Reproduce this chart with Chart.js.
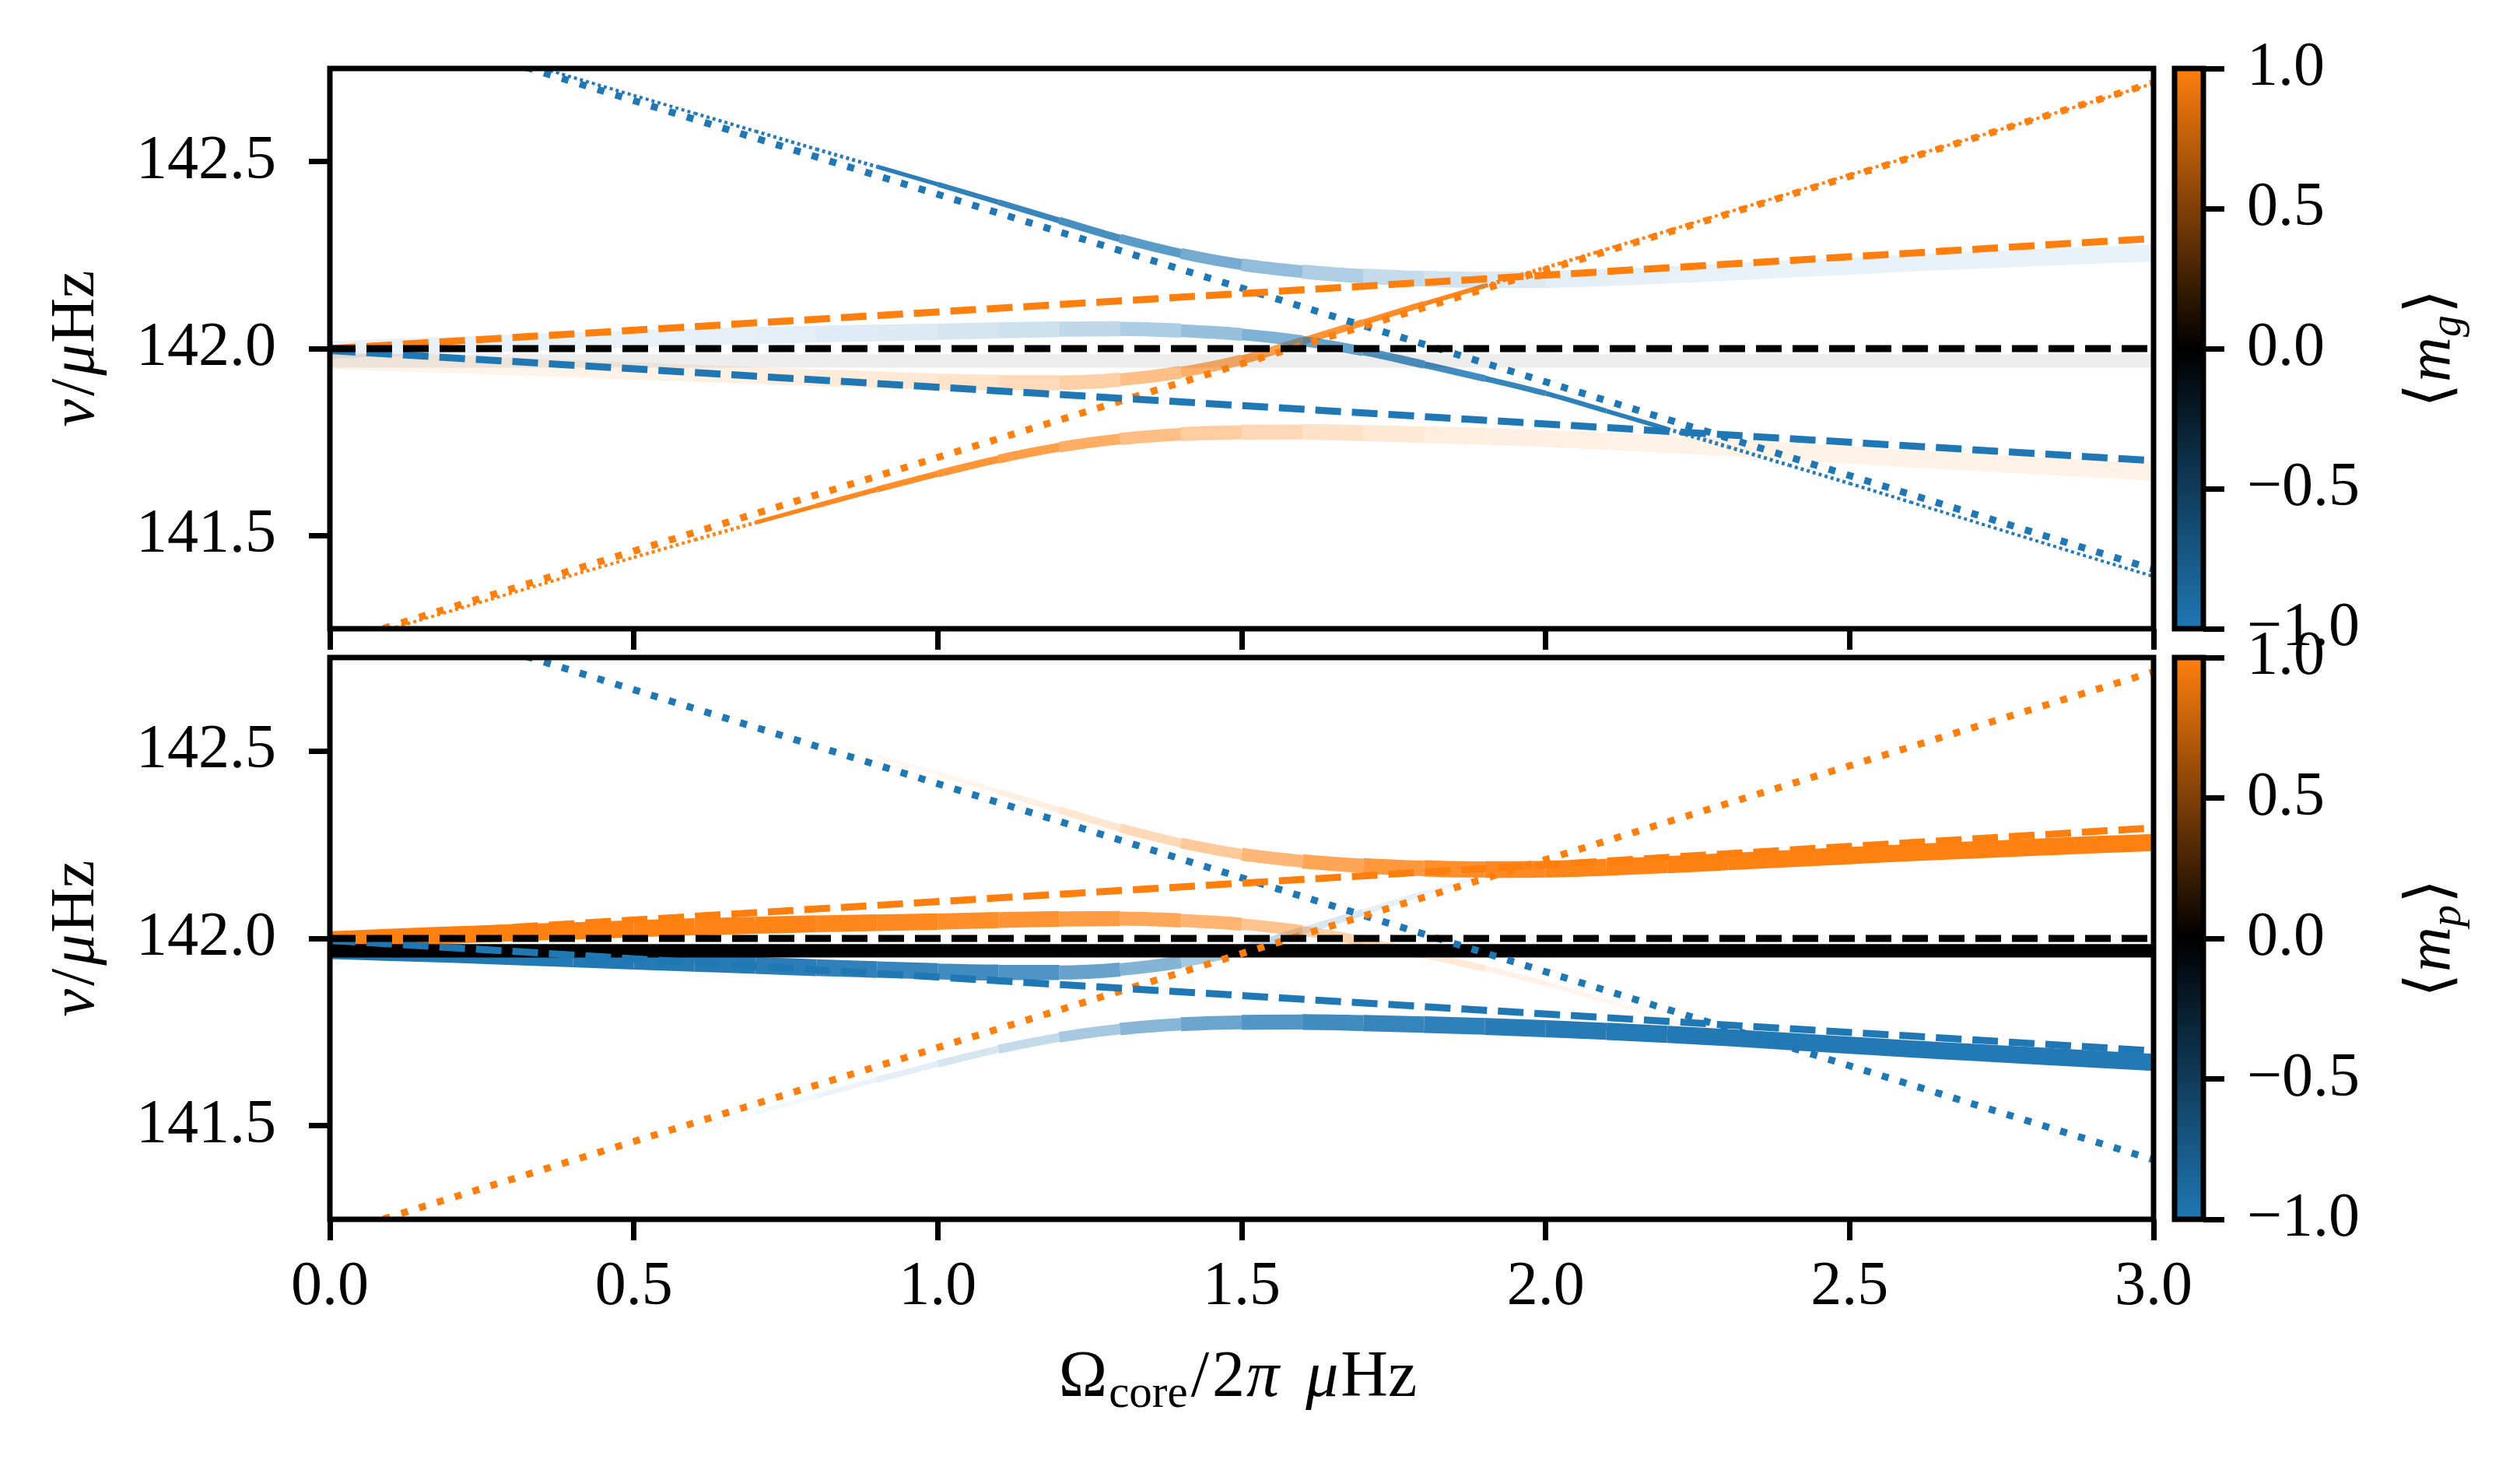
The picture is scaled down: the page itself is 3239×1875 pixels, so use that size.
<!DOCTYPE html>
<html>
<head>
<meta charset="utf-8">
<title>Avoided crossings vs core rotation</title>
<script src="https://cdn.jsdelivr.net/npm/chart.js@4.4.1/dist/chart.umd.min.js"></script>
<style>
  html, body { margin: 0; padding: 0; background: #fff; }
  #wrap { position: relative; width: 3239px; height: 1875px; overflow: hidden; }
  #wrap canvas { position: absolute; left: 0; top: 0; }
</style>
</head>
<body>
<div id="wrap">
  <canvas id="plot-g" width="3239" height="1875"></canvas>
  <canvas id="plot-p" width="3239" height="1875"></canvas>
  <canvas id="cbar-g" width="3239" height="1875"></canvas>
  <canvas id="cbar-p" width="3239" height="1875"></canvas>
</div>
<script>
// core rotation rate grid (Omega_core / 2pi, uHz)
var omega = [0.0, 0.1, 0.2, 0.3, 0.4, 0.5, 0.6, 0.7, 0.8, 0.9, 1.0,
  1.1, 1.2, 1.3, 1.4, 1.5, 1.6, 1.7, 1.8, 1.9, 2.0,
  2.1, 2.2, 2.3, 2.4, 2.5, 2.6, 2.7, 2.8, 2.9, 3.0];
var omegaEnds = [0.0, 3.0];

var xTicks = [0, 0.5, 1, 1.5, 2, 2.5, 3];
var yTicks = [141.5, 142.0, 142.5];
var cbTicks = [-1, -0.5, 0, 0.5, 1];

// coupled mode branches, frequency (uHz)
var nuA = [142.925, 142.875, 142.825, 142.775, 142.726, 142.678, 142.63, 142.582, 142.534, 142.487, 142.44,
  142.392, 142.343, 142.295, 142.255, 142.225, 142.206, 142.194, 142.187, 142.184, 142.185,
  142.19, 142.197, 142.205, 142.213, 142.221, 142.229, 142.236, 142.243, 142.25, 142.256];
var nuB = [141.996, 142.003, 142.009, 142.015, 142.02, 142.026, 142.031, 142.035, 142.039, 142.042, 142.045,
  142.049, 142.052, 142.053, 142.048, 142.038, 142.02, 141.993, 141.957, 141.92, 141.88,
  141.833, 141.785, 141.737, 141.688, 141.639, 141.589, 141.539, 141.489, 141.439, 141.39];
var nuC = [141.968, 141.963, 141.958, 141.952, 141.946, 141.94, 141.934, 141.928, 141.922, 141.917, 141.912,
  141.909, 141.909, 141.917, 141.937, 141.97, 142.02, 142.07, 142.12, 142.168, 142.217,
  142.266, 142.315, 142.365, 142.415, 142.465, 142.514, 142.563, 142.612, 142.661, 142.71];
var nuD = [141.2, 141.25, 141.298, 141.346, 141.394, 141.441, 141.488, 141.534, 141.579, 141.623, 141.665,
  141.704, 141.736, 141.758, 141.771, 141.776, 141.777, 141.774, 141.77, 141.765, 141.759,
  141.752, 141.744, 141.735, 141.725, 141.715, 141.705, 141.696, 141.687, 141.678, 141.669];
var nuE = [141.967, 141.967];

// p-mode fraction along each branch
var pfA = [0.02, 0.02, 0.02, 0.02, 0.02, 0.02, 0.02, 0.03, 0.03, 0.04, 0.06,
  0.09, 0.14, 0.22, 0.33, 0.46, 0.6, 0.72, 0.8, 0.86, 0.89,
  0.91, 0.92, 0.93, 0.93, 0.93, 0.93, 0.93, 0.93, 0.93, 0.93];
var pfB = [0.93, 0.93, 0.93, 0.93, 0.93, 0.93, 0.92, 0.91, 0.9, 0.88, 0.86,
  0.82, 0.77, 0.7, 0.6, 0.5, 0.38, 0.27, 0.18, 0.12, 0.08,
  0.06, 0.05, 0.04, 0.03, 0.03, 0.02, 0.02, 0.02, 0.02, 0.02];
var pfC = [0.94, 0.94, 0.94, 0.94, 0.94, 0.93, 0.92, 0.91, 0.89, 0.86, 0.83,
  0.78, 0.7, 0.59, 0.45, 0.32, 0.21, 0.13, 0.08, 0.05, 0.04,
  0.03, 0.02, 0.02, 0.02, 0.02, 0.02, 0.02, 0.02, 0.02, 0.02];
var pfD = [0.02, 0.02, 0.02, 0.02, 0.02, 0.02, 0.03, 0.04, 0.06, 0.09, 0.14,
  0.21, 0.31, 0.44, 0.57, 0.68, 0.77, 0.83, 0.87, 0.9, 0.91,
  0.92, 0.93, 0.93, 0.93, 0.93, 0.93, 0.93, 0.93, 0.93, 0.93];
var pfE = [0.96, 0.96];

// mean azimuthal order per branch (A, B, C, D, E)
var mgBranch = [-1, -1, 1, 1, 0];
var mpBranch = [1, 1, -1, -1, 0];

// uncoupled multiplets at Omega = 0 and 3
var pM0 = [142.0, 142.0];
var pMplus = [142.0, 142.295];
var pMminus = [141.995, 141.70];
var gMminus = [142.915, 141.409];
var gMplus = [141.207, 142.712];

(function () {
  'use strict';

  var W = 3239, H = 1875;
  var BLUE = [31, 119, 180];
  var ORANGE = [255, 127, 14];
  var SERIF = '"Liberation Serif", "DejaVu Serif", serif';
  var FONT = { family: SERIF, size: 80, lineHeight: 1.2 };
  var DASH = [33, 14];
  var DOT = [9, 15];

  var left = 424, right = 2768;

  function cmap(v) {
    var c = v < 0 ? BLUE : ORANGE;
    var t = Math.min(1, Math.abs(v));
    return [Math.round(c[0] * t), Math.round(c[1] * t), Math.round(c[2] * t)];
  }

  function rgba(c, a) {
    return 'rgba(' + c[0] + ',' + c[1] + ',' + c[2] + ',' + a.toFixed(3) + ')';
  }

  function widthOf(p) {
    return 2 + 21 * Math.pow(p, 0.6);
  }

  function band(xs, ys, pf, mval, panel, scale) {
    var col = cmap(mval);
    function alphaOf(p) {
      return panel === 'g' ? 0.03 + 0.97 * (1 - p) : Math.min(1, 1.06 * p);
    }
    function pAt(ctx) {
      return (pf[ctx.p0DataIndex] + pf[ctx.p1DataIndex]) / 2;
    }
    return {
      data: xs.map(function (x, i) { return { x: x, y: ys[i] }; }),
      borderColor: rgba(col, alphaOf(pf[0])),
      borderWidth: scale * widthOf(pf[0]),
      borderCapStyle: 'butt',
      pointRadius: 0,
      cubicInterpolationMode: 'monotone',
      clip: 0,
      segment: {
        borderColor: function (ctx) { return rgba(col, alphaOf(pAt(ctx))); },
        borderWidth: function (ctx) { return scale * widthOf(pAt(ctx)); },
        borderDash: function (ctx) { return pAt(ctx) < 0.05 ? [4, 4] : undefined; }
      }
    };
  }

  function refLine(ys, color, dash) {
    return {
      data: omegaEnds.map(function (x, i) { return { x: x, y: ys[i] }; }),
      borderColor: color,
      borderWidth: 9,
      borderDash: dash,
      borderCapStyle: 'butt',
      pointRadius: 0,
      clip: 0
    };
  }

  var framePlugin = {
    id: 'frame',
    afterDraw: function (chart) {
      var a = chart.chartArea, ctx = chart.ctx;
      ctx.save();
      ctx.strokeStyle = '#000';
      ctx.lineWidth = 7;
      ctx.strokeRect(a.left, a.top, a.right - a.left, a.bottom - a.top);
      ctx.restore();
    }
  };

  // mixed italic / subscript labels
  function richText(items) {
    function fontFor(p, size) {
      return (p.it ? 'italic ' : '') + Math.round(p.sub ? size * 0.7 : size) + 'px ' + SERIF;
    }
    function widthOfPart(ctx, p, size) {
      if (p.gap) return p.gap;
      ctx.font = fontFor(p, size);
      return ctx.measureText(p.t).width + (p.pad || 0);
    }
    return {
      id: 'richText',
      afterDraw: function (chart) {
        var ctx = chart.ctx;
        items.forEach(function (it) {
          var size = it.size || 80;
          ctx.save();
          ctx.translate(it.x, it.y);
          if (it.rot) ctx.rotate(it.rot);
          ctx.fillStyle = '#000';
          ctx.textBaseline = 'alphabetic';
          ctx.textAlign = 'left';
          var total = 0;
          it.parts.forEach(function (p) { total += widthOfPart(ctx, p, size); });
          var x = -total / 2;
          it.parts.forEach(function (p) {
            if (!p.gap) {
              ctx.font = fontFor(p, size);
              ctx.fillText(p.t, x, p.sub ? size * 0.17 : 0);
            }
            x += widthOfPart(ctx, p, size);
          });
          ctx.restore();
        });
      }
    };
  }

  function yLabel(cy) {
    return {
      x: 120, y: cy, rot: -Math.PI / 2,
      parts: [{ t: 'ν', it: true, pad: 4 }, { t: '/', pad: 4 }, { t: 'μ', it: true, pad: 2 }, { t: 'Hz' }]
    };
  }

  function mainChart(id, panel, top, bottom, withLabels) {
    var m = panel === 'g' ? mgBranch : mpBranch;
    var axisH = withLabels ? 120 : 40;
    var texts = [yLabel((top + bottom) / 2)];
    if (withLabels) {
      texts.push({
        x: 1591, y: 1794, size: 84,
        parts: [{ t: 'Ω', pad: 2 }, { t: 'core', sub: true, pad: 4 }, { t: '/', pad: 4 }, { t: '2', pad: 2 },
          { t: 'π', it: true }, { gap: 34 }, { t: 'μ', it: true, pad: 3 }, { t: 'Hz' }]
      });
    }
    return new Chart(document.getElementById(id), {
      type: 'line',
      data: {
        datasets: [
          refLine(pM0, '#000', DASH),
          refLine(pMplus, rgba(ORANGE, 1), DASH),
          refLine(pMminus, rgba(BLUE, 1), DASH),
          refLine(gMplus, rgba(ORANGE, 1), DOT),
          refLine(gMminus, rgba(BLUE, 1), DOT),
          band(omegaEnds, nuE, pfE, m[4], panel, 0.76),
          band(omega, nuA, pfA, m[0], panel, 1),
          band(omega, nuB, pfB, m[1], panel, 1),
          band(omega, nuC, pfC, m[2], panel, 1),
          band(omega, nuD, pfD, m[3], panel, 1)
        ]
      },
      options: {
        responsive: false,
        animation: false,
        events: [],
        layout: { padding: { left: 0, right: W - right, top: top, bottom: H - bottom - axisH } },
        plugins: { legend: { display: false }, tooltip: { enabled: false } },
        scales: {
          x: {
            type: 'linear', min: 0, max: 3,
            afterBuildTicks: function (s) { s.ticks = xTicks.map(function (v) { return { value: v }; }); },
            afterFit: function (s) { s.height = axisH; s.paddingLeft = 0; s.paddingRight = 0; },
            grid: { drawOnChartArea: false, tickLength: 27, tickWidth: 7, tickColor: '#000' },
            border: { display: false },
            ticks: {
              display: withLabels, padding: 13, color: '#000', font: FONT, maxRotation: 0, autoSkip: false,
              callback: function (v) { return Number(v).toFixed(1); }
            }
          },
          y: {
            type: 'linear', min: 141.25, max: 142.75,
            afterBuildTicks: function (s) { s.ticks = yTicks.map(function (v) { return { value: v }; }); },
            afterFit: function (s) { s.width = left; s.paddingTop = 0; s.paddingBottom = 0; },
            grid: { drawOnChartArea: false, tickLength: 27, tickWidth: 7, tickColor: '#000' },
            border: { display: false },
            ticks: {
              padding: 42, color: '#000', font: FONT, autoSkip: false,
              callback: function (v) { return Number(v).toFixed(1); }
            }
          }
        }
      },
      plugins: [framePlugin, richText(texts)]
    });
  }

  function colorbar(id, top, bottom, sub) {
    var cbLeft = 2795, cbRight = 2832, axisW = 300;
    return new Chart(document.getElementById(id), {
      type: 'bar',
      data: {
        labels: [''],
        datasets: [{
          data: [[cbTicks[0], cbTicks[cbTicks.length - 1]]],
          borderWidth: 0,
          barPercentage: 1,
          categoryPercentage: 1,
          backgroundColor: function (ctx) {
            var a = ctx.chart.chartArea;
            if (!a) return 'rgba(0,0,0,0)';
            var g = ctx.chart.ctx.createLinearGradient(0, a.bottom, 0, a.top);
            g.addColorStop(0, rgba(cmap(-1), 1));
            g.addColorStop(0.5, rgba(cmap(0), 1));
            g.addColorStop(1, rgba(cmap(1), 1));
            return g;
          }
        }]
      },
      options: {
        responsive: false,
        animation: false,
        events: [],
        layout: { padding: { left: cbLeft, right: W - cbRight - axisW, top: top, bottom: H - bottom } },
        plugins: { legend: { display: false }, tooltip: { enabled: false } },
        scales: {
          x: { display: false },
          y: {
            position: 'right', min: -1, max: 1,
            afterBuildTicks: function (s) { s.ticks = cbTicks.map(function (v) { return { value: v }; }); },
            afterFit: function (s) { s.width = axisW; s.paddingTop = 0; s.paddingBottom = 0; },
            grid: { drawOnChartArea: false, tickLength: 27, tickWidth: 7, tickColor: '#000' },
            border: { display: false },
            ticks: {
              padding: 29, color: '#000', font: FONT, autoSkip: false,
              callback: function (v) { return (v < 0 ? '\u2212' : '') + Math.abs(v).toFixed(1); }
            }
          }
        }
      },
      plugins: [framePlugin, richText([{
        x: 3148, y: (top + bottom) / 2, rot: -Math.PI / 2,
        parts: [{ t: '⟨', pad: 2 }, { t: 'm', it: true }, { t: sub, it: true, sub: true, pad: 2 }, { t: '⟩' }]
      }])]
    });
  }

  mainChart('plot-g', 'g', 88, 808, false);
  mainChart('plot-p', 'p', 845, 1567, true);
  colorbar('cbar-g', 88, 808, 'g');
  colorbar('cbar-p', 845, 1567, 'p');
})();
</script>
</body>
</html>
